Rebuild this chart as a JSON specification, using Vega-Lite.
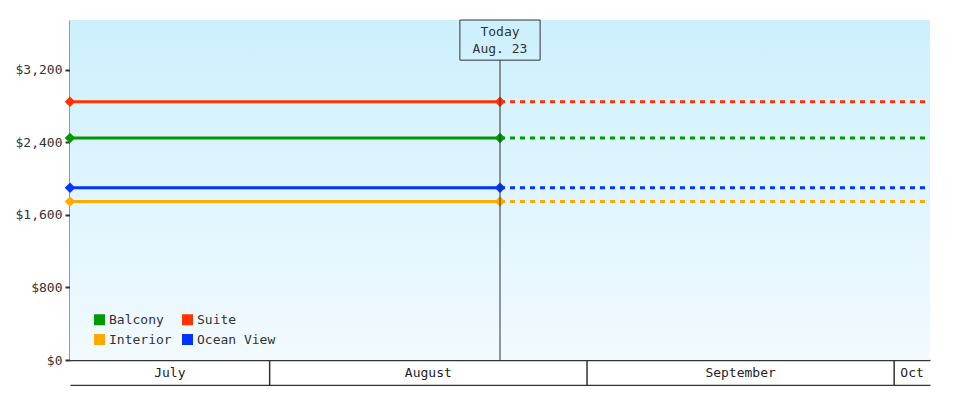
{
  "$schema": "https://vega.github.io/schema/vega-lite/v6.json",
  "padding": {"left": 15, "top": 19, "right": 0, "bottom": 0},
  "background": "white",
  "config": {
    "view": {"stroke": null},
    "font": "DejaVu Sans Mono",
    "axis": {"labelFont": "DejaVu Sans Mono", "labelFontSize": 13, "labelColor": "#333"}
  },
  "spacing": 0,
  "bounds": "flush",
  "datasets": {
    "fares": [
      {"cabin": "Suite", "date": "2013-07-12T12:00", "price": 2849, "part": "booked"},
      {"cabin": "Suite", "date": "2013-08-23T12:00", "price": 2849, "part": "booked"},
      {"cabin": "Suite", "date": "2013-08-23T12:00", "price": 2849, "part": "ahead"},
      {"cabin": "Suite", "date": "2013-10-04T12:00", "price": 2849, "part": "ahead"},
      {"cabin": "Balcony", "date": "2013-07-12T12:00", "price": 2449, "part": "booked"},
      {"cabin": "Balcony", "date": "2013-08-23T12:00", "price": 2449, "part": "booked"},
      {"cabin": "Balcony", "date": "2013-08-23T12:00", "price": 2449, "part": "ahead"},
      {"cabin": "Balcony", "date": "2013-10-04T12:00", "price": 2449, "part": "ahead"},
      {"cabin": "Ocean View", "date": "2013-07-12T12:00", "price": 1899, "part": "booked"},
      {"cabin": "Ocean View", "date": "2013-08-23T12:00", "price": 1899, "part": "booked"},
      {"cabin": "Ocean View", "date": "2013-08-23T12:00", "price": 1899, "part": "ahead"},
      {"cabin": "Ocean View", "date": "2013-10-04T12:00", "price": 1899, "part": "ahead"},
      {"cabin": "Interior", "date": "2013-07-12T12:00", "price": 1749, "part": "booked"},
      {"cabin": "Interior", "date": "2013-08-23T12:00", "price": 1749, "part": "booked"},
      {"cabin": "Interior", "date": "2013-08-23T12:00", "price": 1749, "part": "ahead"},
      {"cabin": "Interior", "date": "2013-10-04T12:00", "price": 1749, "part": "ahead"}
    ],
    "plotArea": [
      {"start": "2013-07-12T12:00", "end": "2013-10-04T12:00", "low": 0, "high": 3750}
    ],
    "today": [
      {"date": "2013-08-23T12:00", "boxStart": "2013-08-19T14:00", "boxEnd": "2013-08-27T10:00",
       "base": 0, "top": 3750, "bottom": 3307, "textY": 3618, "label": "Today\nAug. 23"}
    ],
    "months": [
      {"month": "July", "mid": "2013-07-22T06:00", "end": "2013-08-01T00:00"},
      {"month": "August", "mid": "2013-08-16T12:00", "end": "2013-09-01T00:00"},
      {"month": "September", "mid": "2013-09-16T00:00", "end": "2013-10-01T00:00"},
      {"month": "Oct", "mid": "2013-10-02T18:00", "end": "2013-11-01T00:00"}
    ]
  },
  "vconcat": [
    {
      "width": 860,
      "height": 340,
      "layer": [
        {
          "data": {"name": "plotArea"},
          "mark": {
            "type": "rect",
            "color": {
              "gradient": "linear", "x1": 0, "y1": 0, "x2": 0, "y2": 1,
              "stops": [{"offset": 0, "color": "#ccf0fd"}, {"offset": 1, "color": "#f2faff"}]
            }
          },
          "encoding": {
            "x": {
              "field": "start", "type": "temporal", "title": null,
              "scale": {"domain": [
                {"year": 2013, "month": "Jul", "date": 12, "hours": 12},
                {"year": 2013, "month": "Oct", "date": 4, "hours": 12}
              ]},
              "axis": {"labels": false, "ticks": false, "grid": false, "domainColor": "#333", "domainWidth": 1.5}
            },
            "x2": {"field": "end"},
            "y": {
              "field": "low", "type": "quantitative", "title": null,
              "scale": {"domain": [0, 3750], "nice": false},
              "axis": {
                "values": [0, 800, 1600, 2400, 3200], "format": "$,.0f", "grid": false,
                "domainColor": "#333", "domainWidth": 2, "tickColor": "#333", "tickWidth": 2,
                "tickSize": 5, "labelPadding": 3
              }
            },
            "y2": {"field": "high"}
          }
        },
        {
          "data": {"name": "fares"},
          "mark": {"type": "line", "strokeWidth": 3},
          "encoding": {
            "x": {"field": "date", "type": "temporal"},
            "y": {"field": "price", "type": "quantitative"},
            "color": {
              "field": "cabin", "type": "nominal",
              "scale": {"domain": ["Balcony", "Interior", "Suite", "Ocean View"],
                        "range": ["#009900", "#ffaa00", "#ff3300", "#0033ff"]},
              "legend": {
                "title": null, "orient": "none", "legendX": 23, "legendY": 293, "columns": 2,
                "symbolType": "square", "symbolSize": 121, "symbolStrokeWidth": 0,
                "labelFontSize": 13, "labelColor": "#333", "labelOffset": 3,
                "columnPadding": 9, "rowPadding": 6, "padding": 0
              }
            },
            "detail": {"field": "part", "type": "nominal"},
            "strokeDash": {
              "field": "part", "type": "nominal", "legend": null,
              "scale": {"domain": ["booked", "ahead"], "range": [[1, 0], [5, 5]]}
            }
          }
        },
        {
          "data": {"name": "fares"},
          "transform": [{"filter": "datum.part == 'booked'"}],
          "mark": {"type": "point", "shape": "diamond", "filled": true, "size": 110, "opacity": 1},
          "encoding": {
            "x": {"field": "date", "type": "temporal"},
            "y": {"field": "price", "type": "quantitative"},
            "color": {"field": "cabin", "type": "nominal"}
          }
        },
        {
          "data": {"name": "today"},
          "mark": {"type": "rule", "color": "#333", "strokeWidth": 1},
          "encoding": {
            "x": {"field": "date", "type": "temporal"},
            "y": {"field": "base", "type": "quantitative"},
            "y2": {"field": "bottom"}
          }
        },
        {
          "data": {"name": "today"},
          "mark": {"type": "rect", "fillOpacity": 0, "stroke": "#333", "strokeWidth": 1},
          "encoding": {
            "x": {"field": "boxStart", "type": "temporal"},
            "x2": {"field": "boxEnd"},
            "y": {"field": "top", "type": "quantitative"},
            "y2": {"field": "bottom"}
          }
        },
        {
          "data": {"name": "today"},
          "mark": {"type": "text", "fontSize": 13, "color": "#333", "lineBreak": "\n", "lineHeight": 17, "baseline": "middle"},
          "encoding": {
            "x": {"field": "date", "type": "temporal"},
            "y": {"field": "textY", "type": "quantitative"},
            "text": {"field": "label", "type": "nominal"}
          }
        }
      ]
    },
    {
      "width": 860,
      "height": 25,
      "data": {"name": "months"},
      "layer": [
        {
          "transform": [{"filter": "datum.month != 'Oct'"}],
          "mark": {"type": "rule", "color": "#333", "strokeWidth": 1.5},
          "encoding": {
            "x": {
              "field": "end", "type": "temporal", "title": null,
              "scale": {"domain": [
                {"year": 2013, "month": "Jul", "date": 12, "hours": 12},
                {"year": 2013, "month": "Oct", "date": 4, "hours": 12}
              ]},
              "axis": {"labels": false, "ticks": false, "grid": false, "domainColor": "#333", "domainWidth": 1.5}
            }
          }
        },
        {
          "mark": {"type": "text", "fontSize": 13, "color": "#222"},
          "encoding": {
            "x": {"field": "mid", "type": "temporal"},
            "text": {"field": "month", "type": "nominal"}
          }
        }
      ]
    }
  ]
}
